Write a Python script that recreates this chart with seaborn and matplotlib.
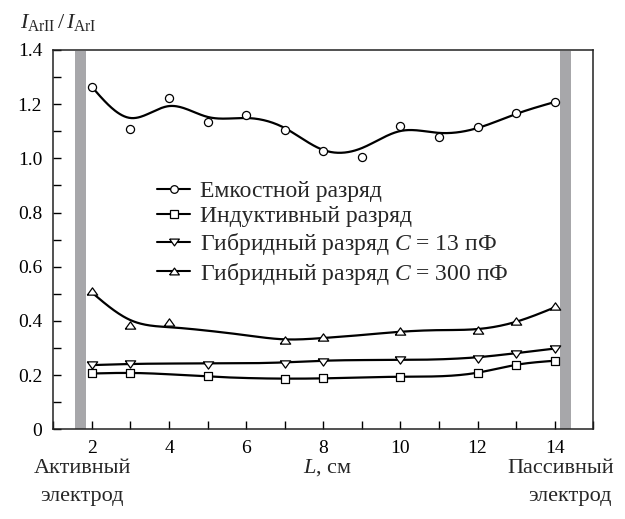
import numpy as np
import pandas as pd
import matplotlib
matplotlib.use("Agg")
import matplotlib.pyplot as plt
from matplotlib.lines import Line2D
from matplotlib.ticker import MultipleLocator, FuncFormatter
import seaborn as sns

# ---------------- data ----------------
x_cap = [2, 3, 4, 5, 6, 7, 8, 9, 10, 11, 12, 13, 14]
y_cap = [1.264, 1.108, 1.223, 1.134, 1.160, 1.105, 1.027, 1.005, 1.119, 1.079, 1.116, 1.168, 1.208]
curve_x_cap = [2, 3, 4, 5, 6, 7, 8, 9, 10, 11, 12, 13, 14]
curve_y_cap = [1.264, 1.149, 1.193, 1.153, 1.149, 1.112, 1.031, 1.038, 1.101, 1.094, 1.112, 1.164, 1.208]

x_ind = [2, 3, 5, 7, 8, 10, 12, 13, 14]
y_ind = [0.206, 0.208, 0.195, 0.187, 0.188, 0.194, 0.209, 0.238, 0.253]
curve_x_ind = [2, 3, 5, 7, 8, 10, 12, 13, 14]
curve_y_ind = [0.206, 0.208, 0.195, 0.187, 0.188, 0.194, 0.209, 0.238, 0.253]

x_h13 = [2, 3, 5, 7, 8, 10, 12, 13, 14]
y_h13 = [0.237, 0.241, 0.236, 0.240, 0.247, 0.256, 0.260, 0.278, 0.297]
curve_x_h13 = [2, 3, 5, 7, 8, 10, 12, 13, 14]
curve_y_h13 = [0.237, 0.241, 0.243, 0.247, 0.253, 0.256, 0.266, 0.281, 0.298]

x_h300 = [2, 3, 4, 7, 8, 10, 12, 13, 14]
y_h300 = [0.511, 0.385, 0.397, 0.330, 0.340, 0.362, 0.367, 0.400, 0.455]
curve_x_h300 = [2, 3, 4, 5, 6, 7, 8, 9, 10, 11, 12, 13, 14]
curve_y_h300 = [0.505, 0.403, 0.377, 0.364, 0.347, 0.332, 0.337, 0.348, 0.360, 0.366, 0.370, 0.397, 0.450]

electrode_x = [1.70, 14.27]
electrode_h = [1.395, 1.395]

labels = ["Емкостной разряд",
          "Индуктивный разряд",
          "Гибридный разряд $C$ = 13 пФ",
          "Гибридный разряд $C$ = 300 пФ"]
y_ticks = [0, 0.2, 0.4, 0.6, 0.8, 1.0, 1.2, 1.4]
x_ticks = [2, 4, 6, 8, 10, 12, 14]


def natural_spline(x, y, xs):
    x = np.asarray(x, float); y = np.asarray(y, float)
    n = len(x); h = np.diff(x)
    A = np.zeros((n, n)); b = np.zeros(n)
    A[0, 0] = A[-1, -1] = 1.0
    for i in range(1, n - 1):
        A[i, i - 1] = h[i - 1]; A[i, i] = 2 * (h[i - 1] + h[i]); A[i, i + 1] = h[i]
        b[i] = 3 * ((y[i + 1] - y[i]) / h[i] - (y[i] - y[i - 1]) / h[i - 1])
    c = np.linalg.solve(A, b)
    bb = (y[1:] - y[:-1]) / h - h * (2 * c[:-1] + c[1:]) / 3
    d = (c[1:] - c[:-1]) / (3 * h)
    idx = np.clip(np.searchsorted(x, xs) - 1, 0, n - 2)
    dx = xs - x[idx]
    return y[idx] + bb[idx] * dx + c[idx] * dx ** 2 + d[idx] * dx ** 3


# ---------------- style ----------------
sns.set_style("white")
plt.rcParams["font.family"] = ["Liberation Serif", "DejaVu Serif"]
plt.rcParams["mathtext.fontset"] = "custom"
plt.rcParams["mathtext.rm"] = "Liberation Serif"
plt.rcParams["mathtext.it"] = "Liberation Serif:italic"
plt.rcParams["mathtext.bf"] = "Liberation Serif:bold"
FS_TICK = 14
FS_LEG = 17
FS_TXT = 16

# wide, flat triangles like in the reference
TRI_UP = [(-1.0, -0.7), (1.0, -0.7), (0.0, 0.7), (-1.0, -0.7)]
TRI_DN = [(-1.0, 0.7), (1.0, 0.7), (0.0, -0.7), (-1.0, 0.7)]

W, H = 625, 519
fig = plt.figure(figsize=(W / 100, H / 100), dpi=100)
L, R, T, B = 53.3, 593.3, 50.0, 429.3
ax = fig.add_axes([L / W, 1 - B / H, (R - L) / W, (B - T) / H])

# electrodes
ax.bar(electrode_x, electrode_h, width=0.28, color="#a7a7aa", linewidth=0, zorder=1)

series = [
    (x_cap, y_cap, curve_x_cap, curve_y_cap, "o", 34),
    (x_ind, y_ind, curve_x_ind, curve_y_ind, "s", 28),
    (x_h13, y_h13, curve_x_h13, curve_y_h13, TRI_DN, 56),
    (x_h300, y_h300, curve_x_h300, curve_y_h300, TRI_UP, 56),
]
for xm, ym, cx, cy, mk, s in series:
    xs = np.linspace(cx[0], cx[-1], 400)
    ys = natural_spline(cx, cy, xs)
    sns.lineplot(x=xs, y=ys, ax=ax, color="black", linewidth=1.6,
                 sort=False, estimator=None, zorder=2)
    sns.scatterplot(x=xm, y=ym, ax=ax, marker=mk, s=s, facecolor="white",
                    edgecolor="black", linewidth=0.9, zorder=3)

ax.set_xlim(1, 15)
ax.set_ylim(0, 1.4)
ax.set_xticks(x_ticks)
ax.xaxis.set_minor_locator(MultipleLocator(1))
ax.set_yticks(y_ticks)
ax.yaxis.set_minor_locator(MultipleLocator(0.1))
ax.yaxis.set_major_formatter(FuncFormatter(lambda v, p: "0" if abs(v) < 1e-9 else f"{v:.1f}"))
ax.tick_params(axis="both", which="both", direction="in", length=6, width=1.0,
               labelsize=FS_TICK, colors="black", left=True, bottom=True, top=False, right=False)
ax.tick_params(axis="y", which="major", pad=8)
ax.tick_params(axis="x", which="major", pad=8)
for sp in ax.spines.values():
    sp.set_color("#222222")
    sp.set_linewidth(1.1)
ax.set_xlabel("")
ax.set_ylabel("")

# legend
handles = [Line2D([], [], color="black", lw=1.5, marker=m, markersize=ms,
                  markerfacecolor="white", markeredgecolor="black", markeredgewidth=0.9)
           for m, ms in zip(["o", "s", TRI_DN, TRI_UP], [5.5, 5.5, 7, 7])]
ax.legend(handles, labels, loc="upper left", bbox_to_anchor=(0.192, 0.655),
          frameon=False, fontsize=FS_LEG, handlelength=1.4, handletextpad=0.42,
          labelspacing=0.15, borderaxespad=0, borderpad=0)

# texts
fig.text(20 / W, 1 - 28 / H, r"$I_{\mathrm{ArII}}\,/\,I_{\mathrm{ArI}}$", fontsize=FS_TXT,
         ha="left", va="baseline")
fig.text(328 / W, 1 - 473 / H, "$L$, см", fontsize=FS_TXT, ha="center", va="baseline")
fig.text(82 / W, 1 - 473 / H, "Активный", fontsize=FS_TXT, ha="center", va="baseline")
fig.text(82 / W, 1 - 501 / H, "электрод", fontsize=FS_TXT, ha="center", va="baseline")
fig.text(614 / W, 1 - 473 / H, "Пассивный", fontsize=FS_TXT, ha="right", va="baseline")
fig.text(612 / W, 1 - 501 / H, "электрод", fontsize=FS_TXT, ha="right", va="baseline")

fig.savefig("out.png", dpi=100)
